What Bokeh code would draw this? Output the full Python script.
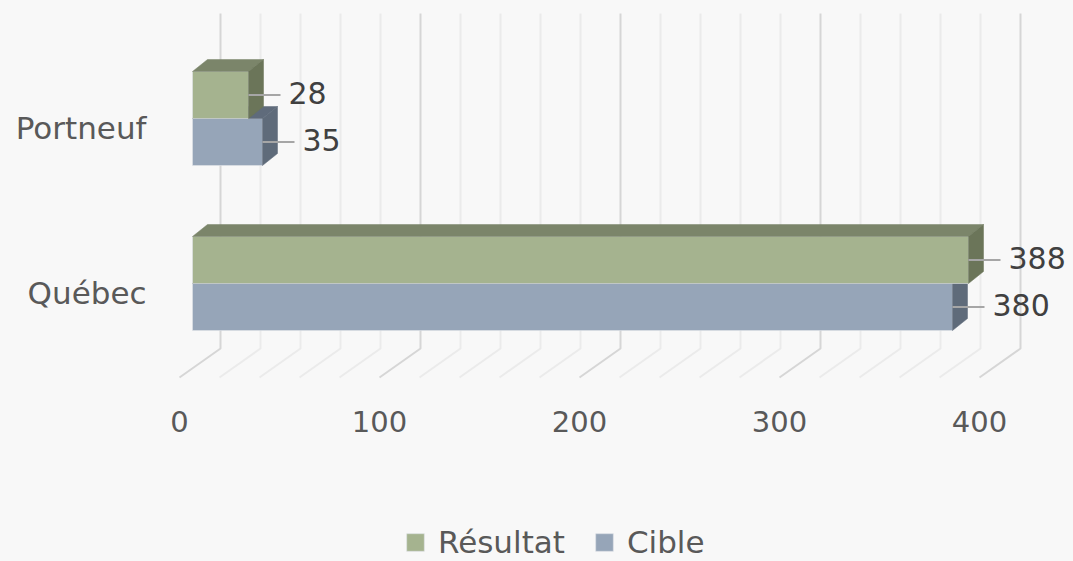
from bokeh.plotting import figure
from bokeh.models import Range1d, Legend, LegendItem
from bokeh.core.properties import value
from bokeh.embed import file_html
from bokeh.resources import INLINE

# ---------------- data ----------------
categories = ["Québec", "Portneuf"]          # bottom to top
resultat = [388, 28]
cible = [380, 35]
series_names = ["Résultat", "Cible"]
tick_values = [0, 100, 200, 300, 400]
minor_step = 20
x_max = 400

# ---------------- styling / geometry ----------------
BG = "#f8f8f8"
FONT = "DejaVu Sans"
W, H = 1073, 561
PX_X = 0.5            # value units per pixel (x)
PX_Y = 1 / 165.0      # category units per pixel (y)
BAR_H = 47 * PX_Y     # thickness of each series bar
DX, DY = 15 * PX_X, 12 * PX_Y          # bar depth offset
WALL_DX = 28 * PX_X                    # back wall offset
FLOOR_Y = -65 * PX_Y                   # back wall bottom
WALL_TOP = 270 * PX_Y
FLOOR_DX, FLOOR_DY = -41 * PX_X, -29 * PX_Y

GREEN = dict(front="#a5b38f", top="#7b856a", side="#6b7559")
BLUE = dict(front="#96a5b8", top="#5f6b7b", side="#5f6b7a")

p = figure(width=W, height=H, output_backend="svg", toolbar_location=None,
           x_range=Range1d(-96, 440.5), y_range=Range1d(-278 / 165.0, 283 / 165.0),
           min_border=0, background_fill_color=BG, border_fill_color=BG,
           outline_line_color=None)
p.xaxis.visible = False
p.yaxis.visible = False
p.xgrid.visible = False
p.ygrid.visible = False

# ---------------- back wall + floor gridlines ----------------
grid_vals = list(range(0, x_max + 1, minor_step))
for gv in grid_vals:
    major = gv in tick_values
    col = "#d6d6d6" if major else "#ebebeb"
    bx = gv + WALL_DX
    p.line([bx, bx, bx + FLOOR_DX], [WALL_TOP, FLOOR_Y, FLOOR_Y + FLOOR_DY],
           line_color=col, line_width=2)

# ---------------- 3D bars ----------------
def bar_faces(vals, y_offsets, colors):
    fx, fy, tx, ty, sx, sy = [], [], [], [], [], []
    for i, v in enumerate(vals):
        y0 = i + y_offsets
        y1 = y0 + BAR_H
        fx.append([0, v, v, 0]); fy.append([y0, y0, y1, y1])
        tx.append([0, v, v + DX, DX]); ty.append([y1, y1, y1 + DY, y1 + DY])
        sx.append([v, v + DX, v + DX, v]); sy.append([y0, y0 + DY, y1 + DY, y1])
    front = p.patches(fx, fy, fill_color=colors["front"], line_color="#dfe3e8",
                      line_alpha=0.6, line_width=1)
    p.patches(tx, ty, fill_color=colors["top"], line_color=colors["top"], line_width=0.5)
    p.patches(sx, sy, fill_color=colors["side"], line_color=colors["side"], line_width=0.5)
    return front

blue_r = bar_faces(cible, -BAR_H, BLUE)
green_r = bar_faces(resultat, 0.0, GREEN)

# ---------------- data labels ----------------
lx, ly, lt = [], [], []
seg_x0, seg_x1, seg_y = [], [], []
for i, (r, c) in enumerate(zip(resultat, cible)):
    for v, ym in ((r, i + BAR_H / 2), (c, i - BAR_H / 2)):
        seg_x0.append(v); seg_x1.append(v + 16); seg_y.append(ym)
        lx.append(v + 20); ly.append(ym + 2 * PX_Y); lt.append(str(v))
p.segment(x0=seg_x0, y0=seg_y, x1=seg_x1, y1=seg_y, line_color="#a6a6a6", line_width=2)
p.text(x=lx, y=ly, text=lt, text_font=value(FONT), text_font_size="30px",
       text_color="#404040", text_align="left", text_baseline="middle")

# ---------------- category labels ----------------
p.text(x=[-23] * len(categories), y=[i - 9 * PX_Y for i in range(len(categories))],
       text=categories, text_font=value(FONT), text_font_size="31px",
       text_color="#595959", text_align="right", text_baseline="middle")

# ---------------- value axis labels (front floor edge) ----------------
p.text(x=[t + WALL_DX + FLOOR_DX for t in tick_values],
       y=[-138 * PX_Y] * len(tick_values),
       text=[str(t) for t in tick_values], text_font=value(FONT),
       text_font_size="29px", text_color="#595959",
       text_align="center", text_baseline="middle")

# ---------------- legend ----------------
legend = Legend(items=[LegendItem(label=series_names[0], renderers=[green_r]),
                       LegendItem(label=series_names[1], renderers=[blue_r])],
                orientation="horizontal", location=(404, 1),
                background_fill_alpha=0, border_line_color=None,
                label_text_font=FONT, label_text_font_size="31px",
                label_text_color="#595959", glyph_width=22, glyph_height=22,
                label_standoff=12, spacing=28, padding=0, margin=0)
p.add_layout(legend, "center")

html = file_html(p, INLINE)
html = html.replace("<head>", "<head><style>body{background:%s;}</style>" % BG, 1)
open("out.html", "w").write(html)
